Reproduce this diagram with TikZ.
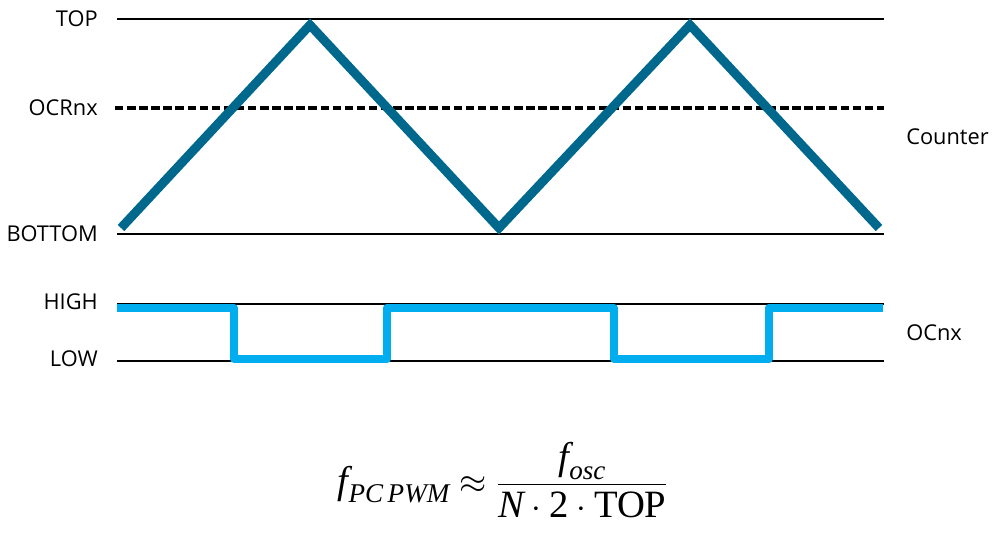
\documentclass[tikz,border=0pt]{standalone}
\usepackage{amsmath}
\usepackage{fontspec}
\newfontfamily\labelfont{Open Sans}
\newfontfamily\formfont{Liberation Serif}
\usepackage{tikz}
\usetikzlibrary{positioning, calc}
\definecolor{counterblue}{RGB}{0,104,140}
\definecolor{outblue}{RGB}{0,174,239}
\tikzset{
	leveltext/.style={font=\fontsize{15.5}{18}\selectfont\labelfont, inner sep=0pt}
}

\begin{document}
\begin{tikzpicture}[x=0.025cm, y=-0.025cm]

      \tikzset{
        levelline/.style={
            draw=black,
            line width=1pt
          },
        counterwave/.style={
            draw=counterblue,
            line width=6.4pt,
            line join=miter
          },
        outwave/.style={
            draw=outblue,
            line width=5.9pt,
            line join=round
          }
      }

      \useasboundingbox (0,0) rectangle (996,538);

      % counter levels
      \node[leveltext, anchor=east] (ltop) at (98,19) {TOP};
      \node[leveltext, anchor=east] (locr) at (98,108) {OCRnx};
      \node[leveltext, anchor=east] (lbot) at (98,234) {BOTTOM};
      \node[leveltext, anchor=west] (lcnt) at (906,137) {Counter};

      \draw[levelline] (117,19) -- (884,19);
      \draw[levelline, line width=2.2pt, dash pattern=on 6pt off 2.6pt] (115,108) -- (884,108);
      \draw[levelline] (117,234) -- (884,234);

      \draw[counterwave] (121,228) -- (310,25) -- (499,228) -- (690,25) -- (879,228);

      % output levels
      \node[leveltext, anchor=east] (lhigh) at (98,302) {HIGH};
      \node[leveltext, anchor=east] (llow) at (98,359) {LOW};
      \node[leveltext, anchor=west] (locn) at (906,333) {OCnx};

      \draw[levelline] (117,304) -- (884,304);
      \draw[levelline] (117,361) -- (884,361);

      \draw[outwave] (117,308) -- (234,308) -- (234,359) -- (387,359) -- (387,308)
        -- (614,308) -- (614,359) -- (769,359) -- (769,308) -- (883,308);

      % frequency
      \node[font=\fontsize{27.5}{33}\selectfont, inner sep=0pt] (freq) at (503,480)
        {$\displaystyle\text{\formfont\itshape f}_{\text{\formfont\itshape PC\,PWM}}
          \approx\frac{\text{\formfont\itshape f}_{\text{\formfont\itshape osc}}}
          {\text{\formfont\itshape N}\cdot\text{\formfont 2}\cdot\text{\formfont TOP}}$};

    \end{tikzpicture}
\end{document}
